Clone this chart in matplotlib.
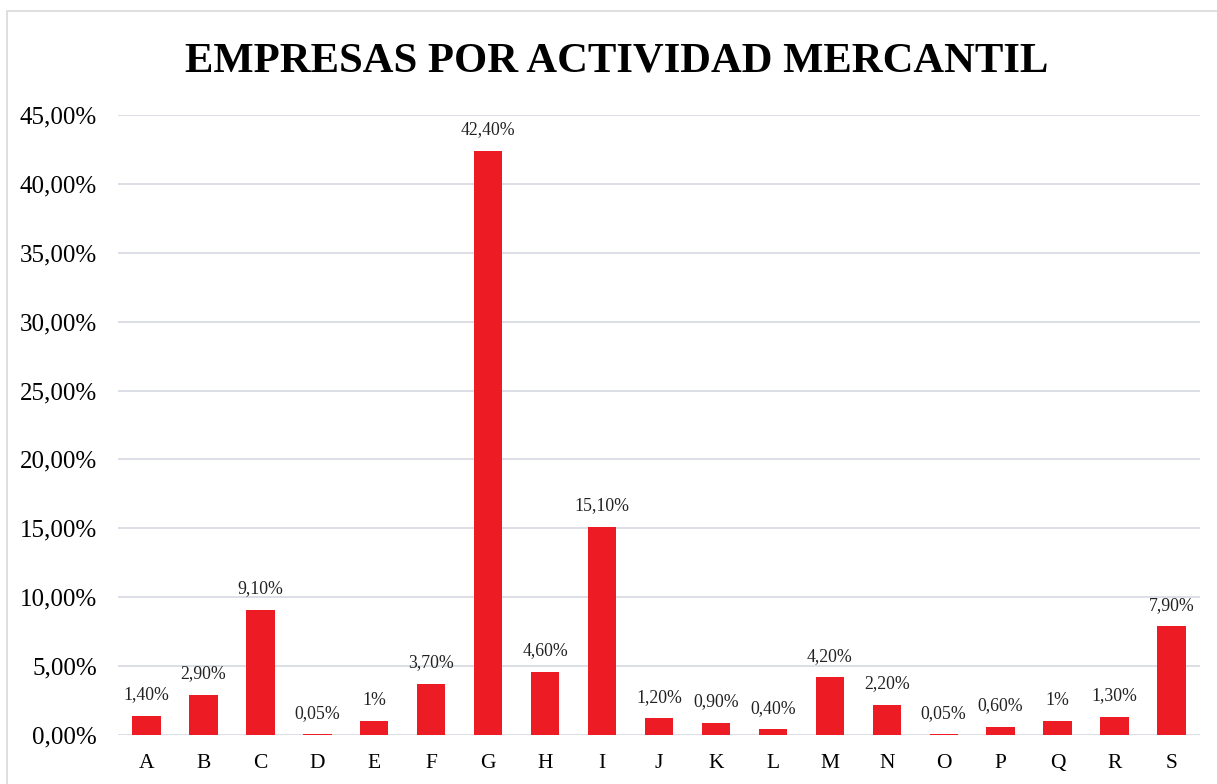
import matplotlib.pyplot as plt
from matplotlib.patches import Rectangle
from matplotlib.ticker import FuncFormatter

categories = ["A", "B", "C", "D", "E", "F", "G", "H", "I", "J",
              "K", "L", "M", "N", "O", "P", "Q", "R", "S"]
values = [1.40, 2.90, 9.10, 0.05, 1.0, 3.70, 42.40, 4.60, 15.10, 1.20,
          0.90, 0.40, 4.20, 2.20, 0.05, 0.60, 1.0, 1.30, 7.90]
value_labels = ["1,40%", "2,90%", "9,10%", "0,05%", "1%", "3,70%", "42,40%",
                "4,60%", "15,10%", "1,20%", "0,90%", "0,40%", "4,20%", "2,20%",
                "0,05%", "0,60%", "1%", "1,30%", "7,90%"]
title = "EMPRESAS POR ACTIVIDAD MERCANTIL"

plt.rcParams["font.family"] = ["Liberation Serif", "DejaVu Serif"]

fig = plt.figure(figsize=(12.17, 7.84), dpi=100)
ax = fig.add_axes([118 / 1217, 1 - 735 / 784, (1200 - 118) / 1217, (735 - 115) / 784])

x = range(len(categories))
ax.bar(x, values, width=0.5, color="#ED1C24", zorder=3)
for xi, v, lab in zip(x, values, value_labels):
    ax.annotate(lab, (xi, v), xytext=(0, 9), textcoords="offset points",
                ha="center", va="bottom", fontsize=12.8, color="#222222")

ax.set_xlim(-0.5, len(categories) - 0.5)
ax.set_ylim(0, 45)
ax.set_yticks(range(0, 46, 5))
ax.yaxis.set_major_formatter(FuncFormatter(lambda v, p: f"{v:.2f}%".replace(".", ",")))
ax.set_xticks(list(x))
ax.set_xticklabels(categories, fontsize=15.5)
ax.tick_params(axis="y", labelsize=18, length=0, pad=15)
ax.tick_params(axis="x", length=0, pad=14)
ax.grid(axis="y", color="#D9DCE3", linewidth=1.3, zorder=0)
for s in ax.spines.values():
    s.set_visible(False)

fig.text(617 / 1217, 1 - 61 / 784, title, ha="center", va="center",
         fontsize=30.7, fontweight="bold")

fig.patches.append(Rectangle((7 / 1217, -0.01), 1, 1 - 11 / 784 + 0.01,
                             transform=fig.transFigure, fill=False,
                             edgecolor="#D9D9D9", linewidth=1.2))

fig.savefig("out.png", dpi=100)
